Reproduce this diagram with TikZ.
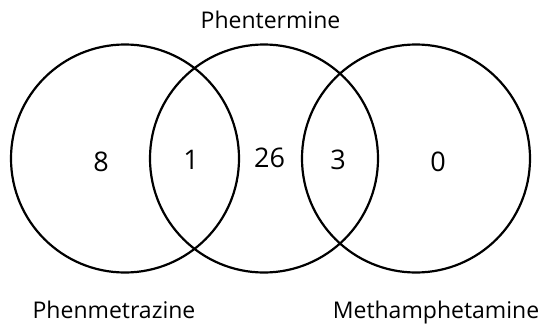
\documentclass[tikz,border=0pt]{standalone}
\usepackage{fontspec}
\setmainfont{Open Sans}
\begin{document}
\begin{tikzpicture}[x=1pt,y=-1pt,
  venn/.style={circle,draw=black,line width=2.2pt,minimum size=228pt,inner sep=0pt},
  num/.style={font=\fontsize{27}{30}\selectfont,inner sep=0pt},
  lab/.style={font=\fontsize{23}{27}\selectfont,inner sep=0pt,anchor=base}]
\useasboundingbox[fill=white] (0,0) rectangle (543,327);
\node[venn] (A) at (125,158.5) {};
\node[venn] (B) at (264,158.5) {};
\node[venn] (C) at (416,158.5) {};
\node[num] (n8) at (101,162) {8};
\node[num] (n1) at (191,160) {1};
\node[num] (n26) at (269.5,158) {26};
\node[num] (n3) at (338,160) {3};
\node[num] (n0) at (438,162) {0};
\node[lab] (lB) at (270.5,28) {Phentermine};
\node[lab] (lA) at (114,318) {Phenmetrazine};
\node[lab] (lC) at (436,318) {Methamphetamine};
\end{tikzpicture}
\end{document}
